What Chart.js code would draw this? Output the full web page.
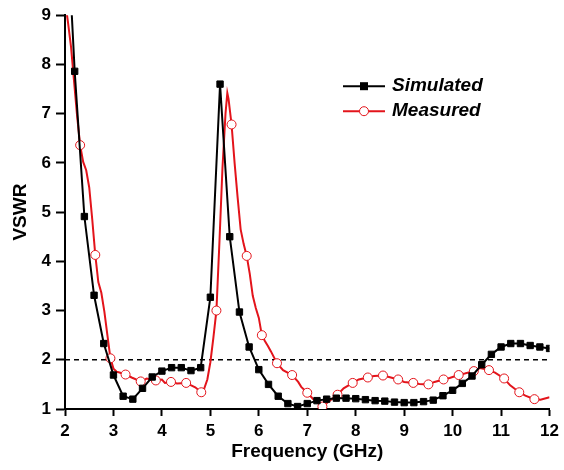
<!DOCTYPE html>
<html>
<head>
<meta charset="utf-8">
<title>VSWR</title>
<script src="https://cdn.jsdelivr.net/npm/chart.js@4.4.0/dist/chart.umd.min.js"></script>
<style>
  body { margin: 0; background: #fff; }
  #wrap { width: 564px; height: 470px; }
</style>
</head>
<body>
<div id="wrap"><canvas id="grafica" width="564" height="470"></canvas></div>
<script>
//datos

const xTicks = [2, 3, 4, 5, 6, 7, 8, 9, 10, 11, 12];
const yTicks = [1, 2, 3, 4, 5, 6, 7, 8, 9];

const simFreq = [2.0, 2.2, 2.4, 2.6, 2.8, 3.0, 3.2, 3.4, 3.6, 3.8,
                 4.0, 4.2, 4.4, 4.6, 4.8, 5.0, 5.2, 5.4, 5.6, 5.8,
                 6.0, 6.2, 6.4, 6.6, 6.8, 7.0, 7.2, 7.4, 7.6, 7.8,
                 8.0, 8.2, 8.4, 8.6, 8.8, 9.0, 9.2, 9.4, 9.6, 9.8,
                 10.0, 10.2, 10.4, 10.6, 10.8, 11.0, 11.2, 11.4, 11.6, 11.8, 12.0];
const simVswr = [11.7, 7.86, 4.91, 3.31, 2.33, 1.69, 1.26, 1.20, 1.42, 1.65,
                 1.77, 1.84, 1.84, 1.78, 1.84, 3.27, 7.60, 4.50, 2.97, 2.26,
                 1.80, 1.50, 1.26, 1.11, 1.05, 1.11, 1.17, 1.20, 1.22, 1.22,
                 1.21, 1.19, 1.17, 1.16, 1.14, 1.13, 1.13, 1.15, 1.18, 1.27,
                 1.38, 1.52, 1.67, 1.90, 2.11, 2.26, 2.33, 2.33, 2.29, 2.26, 2.23];

const measFreq = [2.0, 2.0625, 2.125, 2.1875, 2.25, 2.3125, 2.375, 2.4375, 2.5, 2.5625,
                  2.625, 2.6875, 2.75, 2.8125, 2.875, 2.9375, 3.0, 3.0625, 3.125, 3.25,
                  3.375, 3.5625, 3.6875, 3.875, 4.0, 4.0625, 4.1875, 4.3125, 4.5, 4.625,
                  4.6875, 4.8125, 4.875, 4.9375, 5.0, 5.0625, 5.125, 5.1875, 5.25, 5.3125,
                  5.35, 5.375, 5.4375, 5.5, 5.5625, 5.625, 5.6875, 5.75, 5.8125, 5.875,
                  5.9375, 6.0, 6.0625, 6.125, 6.1875, 6.25, 6.375, 6.5, 6.6875, 6.8125,
                  6.875, 7.0, 7.125, 7.3125, 7.4375, 7.625, 7.75, 7.9375, 8.0625, 8.25,
                  8.375, 8.5625, 8.6875, 8.875, 9.0, 9.1875, 9.3125, 9.5, 9.625, 9.8125,
                  9.9375, 10.125, 10.25, 10.4375, 10.5625, 10.75, 10.875, 11.0625, 11.1875, 11.375,
                  11.5, 11.6875, 11.8125, 12.0];
const measVswr = [9.30, 8.85, 8.35, 7.65, 6.95, 6.36, 6.02, 5.85, 5.50, 4.85,
                  4.13, 3.58, 3.36, 2.98, 2.50, 2.03, 1.82, 1.76, 1.74, 1.70,
                  1.64, 1.56, 1.62, 1.58, 1.60, 1.53, 1.55, 1.52, 1.53, 1.47,
                  1.44, 1.34, 1.42, 1.60, 1.95, 2.45, 3.00, 4.40, 5.90, 7.00,
                  7.42, 7.30, 6.78, 6.00, 5.30, 4.65, 4.35, 4.11, 3.75, 3.30,
                  3.05, 2.85, 2.50, 2.38, 2.28, 2.17, 1.93, 1.79, 1.69, 1.55,
                  1.45, 1.33, 1.20, 1.05, 1.15, 1.29, 1.42, 1.53, 1.60, 1.64,
                  1.67, 1.68, 1.65, 1.60, 1.55, 1.53, 1.51, 1.50, 1.55, 1.60,
                  1.63, 1.69, 1.72, 1.77, 1.83, 1.79, 1.74, 1.62, 1.48, 1.34,
                  1.27, 1.20, 1.19, 1.24];

const refFreq = [2, 12];
const refVswr = [2, 2];

const etiquetas = ["Simulated", "Measured"];

//marcadores de la curva medida cada 0.3125 GHz (sin los extremos)
const measMarked = measFreq.map((f, i) => {
    const k = (f - 2) / 0.3125;
    return i > 0 && i < measFreq.length - 1 && Math.abs(k - Math.round(k)) < 0.001;
});

const toXY = (xs, ys) => xs.map((x, i) => ({ x: x, y: ys[i] }));

const fuente = "'Liberation Sans', Arial, sans-serif";
const rojo = "#e3141b";

//leyenda dentro del area de la grafica
const leyenda = {
    id: "leyenda",
    afterDraw(chart) {
        const ctx = chart.ctx;
        const area = chart.chartArea;
        const x0 = area.left + 278;
        ctx.save();
        for (let i = 0; i < 2; i++) {
            const ds = chart.data.datasets[i];
            const y = area.top + 71 + i * 25;
            ctx.strokeStyle = ds.borderColor;
            ctx.lineWidth = 2;
            ctx.beginPath();
            ctx.moveTo(x0, y);
            ctx.lineTo(x0 + 42, y);
            ctx.stroke();
            if (i === 0) {
                ctx.fillStyle = "#000";
                ctx.fillRect(x0 + 21 - 4, y - 4, 8, 8);
            } else {
                ctx.fillStyle = "#fff";
                ctx.lineWidth = 1;
                ctx.beginPath();
                ctx.arc(x0 + 21, y, 4.5, 0, Math.PI * 2);
                ctx.fill();
                ctx.stroke();
            }
            ctx.fillStyle = "#000";
            ctx.font = "italic bold 19px " + fuente;
            ctx.textBaseline = "middle";
            ctx.textAlign = "left";
            ctx.fillText(ds.label, x0 + 49, y);
        }
        ctx.restore();
    }
};

const config = {
    type: "line",
    data: {
        datasets: [{
            label: etiquetas[0],
            data: toXY(simFreq, simVswr),
            borderColor: "#000",
            borderWidth: 2,
            backgroundColor: "#000",
            pointStyle: "rect",
            pointRadius: 4.5,
            pointBorderWidth: 1,
            pointBorderColor: "#000",
            pointBackgroundColor: "#000",
            tension: 0
        }, {
            label: etiquetas[1],
            data: toXY(measFreq, measVswr),
            borderColor: rojo,
            borderWidth: 2,
            backgroundColor: "#fff",
            pointStyle: "circle",
            pointRadius: (c) => measMarked[c.dataIndex] ? 4.5 : 0,
            pointBorderWidth: 1,
            pointBorderColor: rojo,
            pointBackgroundColor: "#fff",
            tension: 0
        }, {
            label: "VSWR = 2",
            data: toXY(refFreq, refVswr),
            borderColor: "#000",
            borderWidth: 1.5,
            borderDash: [5, 4],
            pointRadius: 0,
            tension: 0
        }]
    },
    options: {
        responsive: false,
        animation: false,
        events: [],
        layout: { padding: { top: 13, right: 11, left: 0, bottom: 0 } },
        plugins: {
            legend: { display: false },
            tooltip: { enabled: false }
        },
        scales: {
            x: {
                type: "linear",
                min: xTicks[0],
                max: xTicks[xTicks.length - 1],
                afterBuildTicks: (s) => { s.ticks = xTicks.map(v => ({ value: v })); },
                afterFit: (s) => { s.height = 61; },
                border: { display: true, color: "#000", width: 2 },
                grid: { drawOnChartArea: false, drawTicks: true, tickLength: 7, tickWidth: 2, tickColor: "#000" },
                ticks: { color: "#000", padding: 5, maxRotation: 0, font: { family: fuente, size: 17, weight: "bold" } },
                title: {
                    display: true,
                    text: "Frequency (GHz)",
                    color: "#000",
                    padding: { top: 0, bottom: 7 },
                    font: { family: fuente, size: 19, weight: "bold" }
                }
            },
            y: {
                type: "linear",
                min: yTicks[0],
                max: yTicks[yTicks.length - 1],
                afterBuildTicks: (s) => { s.ticks = yTicks.map(v => ({ value: v })); },
                afterFit: (s) => { s.width = 65; },
                border: { display: true, color: "#000", width: 2 },
                grid: { drawOnChartArea: false, drawTicks: true, tickLength: 9, tickWidth: 2, tickColor: "#000" },
                ticks: { color: "#000", padding: 5, font: { family: fuente, size: 17, weight: "bold" } },
                title: {
                    display: true,
                    text: "VSWR",
                    color: "#000",
                    padding: { top: 9, bottom: 0 },
                    font: { family: fuente, size: 19, weight: "bold" }
                }
            }
        }
    },
    plugins: [leyenda]
};

const grafica = new Chart(document.getElementById("grafica").getContext("2d"), config);
</script>
</body>
</html>
